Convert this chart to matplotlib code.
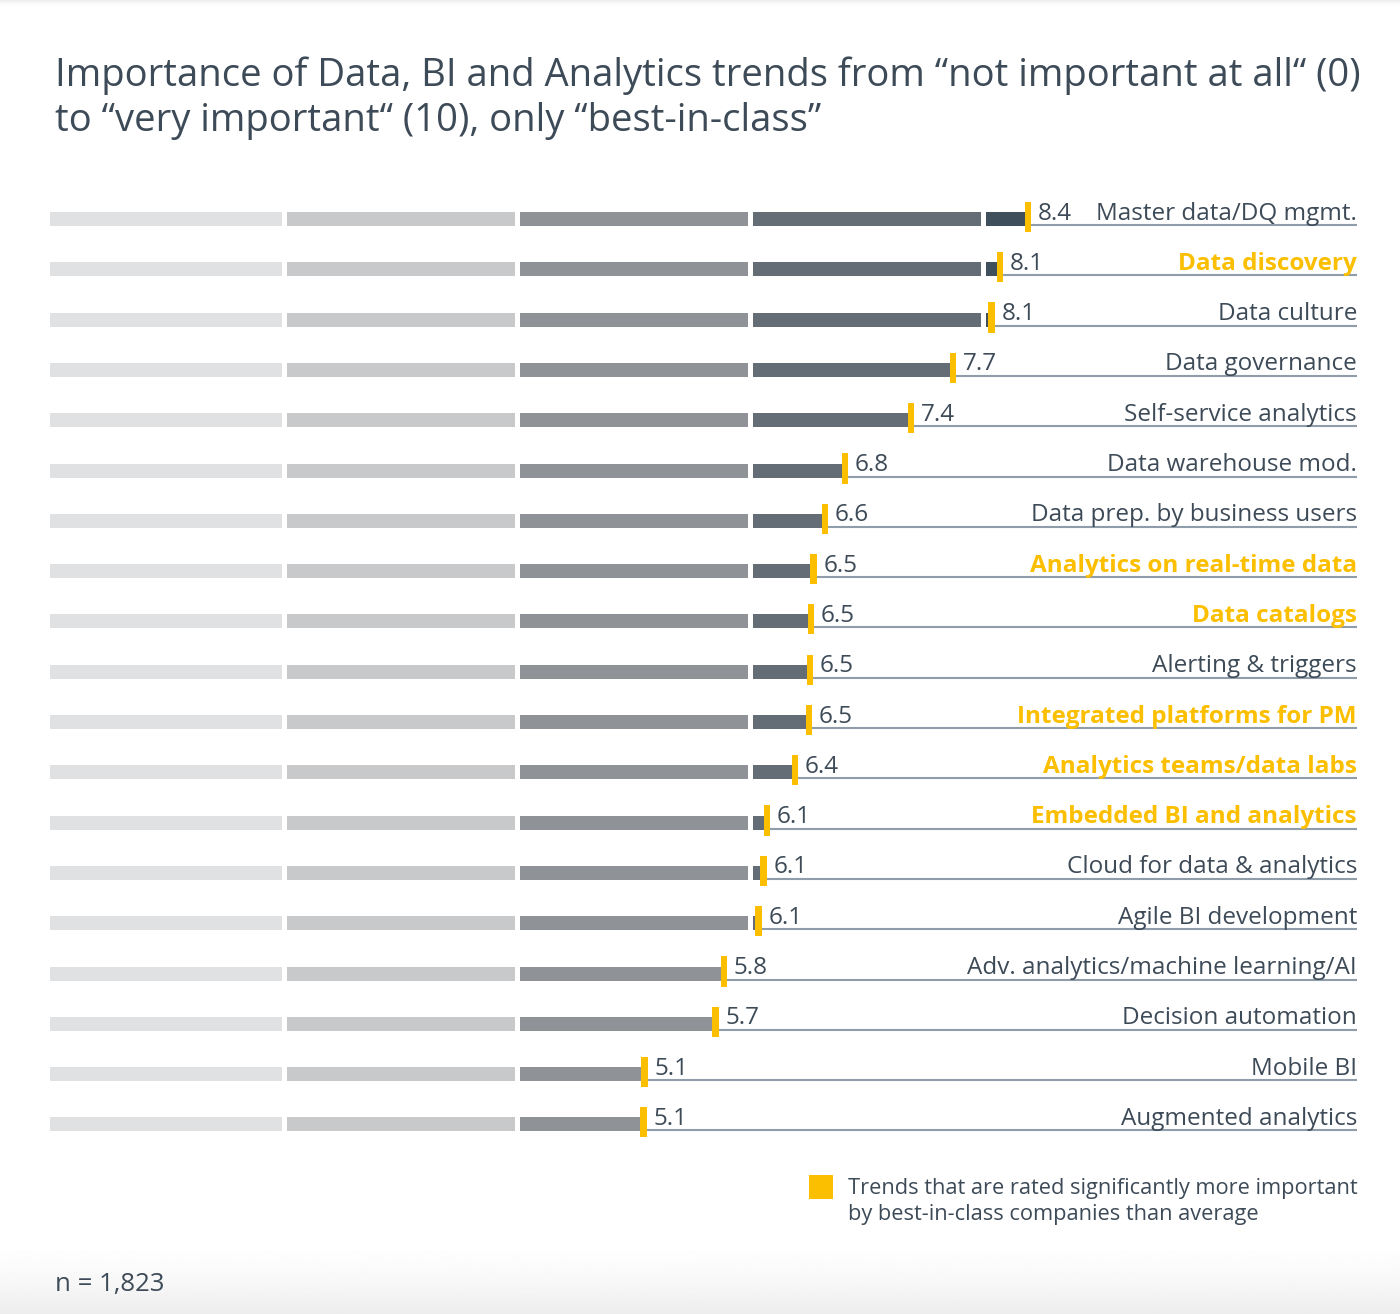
import numpy as np
import matplotlib.pyplot as plt
from matplotlib.patches import Rectangle

labels = ["Master data/DQ mgmt.", "Data discovery", "Data culture", "Data governance",
          "Self-service analytics", "Data warehouse mod.", "Data prep. by business users",
          "Analytics on real-time data", "Data catalogs", "Alerting & triggers",
          "Integrated platforms for PM", "Analytics teams/data labs", "Embedded BI and analytics",
          "Cloud for data & analytics", "Agile BI development", "Adv. analytics/machine learning/AI",
          "Decision automation", "Mobile BI", "Augmented analytics"]
scores = [8.38, 8.14, 8.07, 7.74, 7.38, 6.81, 6.64, 6.54, 6.52, 6.51, 6.50, 6.38,
          6.14, 6.11, 6.07, 5.77, 5.70, 5.09, 5.08]
highlight = [False, True, False, False, False, False, False, True, True, False,
             True, True, True, False, False, False, False, False, False]

seg_colors = ["#e0e1e3", "#c8c9cb", "#8f9398", "#646d75", "#3f4f5c"]
text_col = "#3d4a57"
yellow = "#fbbf00"
line_col = "#8f9dab"

W, H = 1400, 1314
fig = plt.figure(figsize=(W / 100, H / 100), dpi=100)

# background gradient at the bottom
bg = fig.add_axes([0, 0, 1, 1])
bg.set_xlim(0, W)
bg.set_ylim(H, 0)
bg.axis("off")
grad = np.linspace(0, 1, 100).reshape(-1, 1)
bg.imshow(1 - 0.07 * grad ** 1.5, cmap="gray", vmin=0, vmax=1, aspect="auto",
          extent=[0, W, H, 1240], zorder=0)
bg.imshow(1 - 0.08 * (1 - grad) ** 3, cmap="gray", vmin=0, vmax=1, aspect="auto",
          extent=[0, W, 10, 0], zorder=0)

# data axes: 1 unit = 116.5 px, zero at x=51.5 px; rows every 50.3 px from y=219
x0, unit = 51.5, 116.5
y0, step = 219, 50.3
ax = fig.add_axes([0, 0, 1, 1])
ax.patch.set_alpha(0)
ax.set_xlim(-x0 / unit, (W - x0) / unit)
ax.set_ylim((H - y0) / step, -y0 / step)
ax.axis("off")

gap = 5 / unit
bar_h = 14 / step
right = (1357 - x0) / unit

for i, (lab, v, hl) in enumerate(zip(labels, scores, highlight)):
    for k, c in enumerate(seg_colors):
        s = 2 * k + (gap / 2 if k > 0 else -1.5 / unit)
        e = min(2 * k + 2 - gap / 2, v)
        if e > s:
            ax.barh(i, e - s, left=s, height=bar_h, color=c, zorder=2)
    ax.plot([v, right], [i + 0.12, i + 0.12], color=line_col, lw=1.5,
            solid_capstyle="butt", zorder=1)
    ax.add_patch(Rectangle((v - 3.2 / unit, i - 0.34), 6.4 / unit, 0.6,
                           color=yellow, zorder=3, lw=0))
    ax.text(v + 10 / unit, i + 0.01, f"{v:.1f}", fontsize=17.5, color=text_col,
            family="Open Sans", va="baseline", ha="left")
    ax.text(right, i + 0.01, lab, fontsize=17.5, va="baseline", ha="right",
            family="Open Sans", color=yellow if hl else text_col,
            fontweight="bold" if hl else "normal")

# title
fig.text(55 / W, 1 - 86 / H,
         "Importance of Data, BI and Analytics trends from \u201cnot important at all\u201c (0)",
         fontsize=27.5, color=text_col, family="Open Sans", va="baseline", ha="left")
fig.text(55 / W, 1 - 131 / H,
         "to \u201cvery important\u201c (10), only \u201cbest-in-class\u201d",
         fontsize=27.5, color=text_col, family="Open Sans", va="baseline", ha="left")

# legend
bg.add_patch(Rectangle((809, 1175), 24, 24, color=yellow, lw=0))
bg.text(848, 1194, "Trends that are rated significantly more important",
        fontsize=15.7, color=text_col, family="Open Sans", va="baseline")
bg.text(848, 1220, "by best-in-class companies than average",
        fontsize=15.7, color=text_col, family="Open Sans", va="baseline")

bg.text(55, 1291, "n = 1,823", fontsize=18.5, color=text_col, family="Open Sans",
        va="baseline")

fig.savefig("out.png", dpi=100)
